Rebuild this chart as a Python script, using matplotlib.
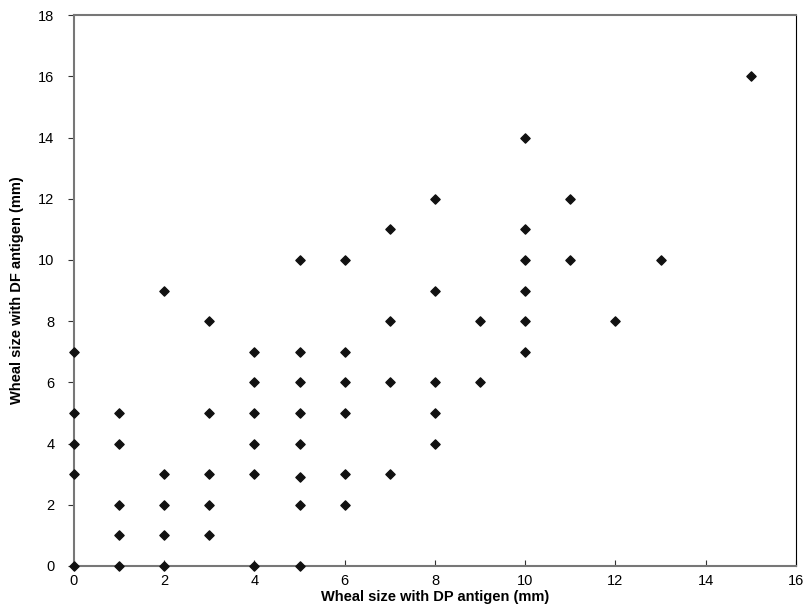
import matplotlib
matplotlib.use('Agg')
import matplotlib.pyplot as plt

plt.rcParams['font.family'] = ['Liberation Sans', 'DejaVu Sans']

# wheal sizes (mm)
dp_size = [0, 0, 0, 0, 0,
           1, 1, 1, 1, 1,
           2, 2, 2, 2, 2,
           3, 3, 3, 3, 3,
           4, 4, 4, 4, 4, 4,
           5, 5, 5, 5, 5, 5, 5, 5,
           6, 6, 6, 6, 6, 6,
           7, 7, 7, 7,
           8, 8, 8, 8, 8,
           9, 9,
           10, 10, 10, 10, 10, 10,
           11, 11,
           12,
           13,
           15]
df_size = [0, 3, 4, 5, 7,
           0, 1, 2, 4, 5,
           0, 1, 2, 3, 9,
           1, 2, 3, 5, 8,
           0, 3, 4, 5, 6, 7,
           0, 2, 2.9, 4, 5, 6, 7, 10,
           2, 3, 5, 6, 7, 10,
           3, 6, 8, 11,
           4, 5, 6, 9, 12,
           6, 8,
           7, 8, 9, 10, 11, 14,
           10, 12,
           8,
           10,
           16]

fig = plt.figure(figsize=(8.11, 6.05), dpi=100)
ax = fig.add_axes([0.0912, 0.0645, 0.8903, 0.9105])

ax.scatter(dp_size, df_size, marker='D', s=22, color='#111111', zorder=3, clip_on=False)

ax.set_xlim(0, 16)
ax.set_ylim(0, 18)
ax.set_xticks(range(0, 17, 2))
ax.set_yticks(range(0, 19, 2))
ax.tick_params(axis='x', direction='in', length=4, labelsize=10.5, pad=6, color='#333333')
ax.tick_params(axis='y', direction='out', length=4, labelsize=10.5, pad=10, color='#333333')

for side in ['left', 'bottom', 'top']:
    ax.spines[side].set_color('#777777')
    ax.spines[side].set_linewidth(1.5)
ax.spines['right'].set_color('black')
ax.spines['right'].set_linewidth(0.8)

ax.set_xlabel('Wheal size with DP antigen (mm)', fontsize=10.5, fontweight='bold', labelpad=1)
ax.set_ylabel('Wheal size with DF antigen (mm)', fontsize=10.5, fontweight='bold', labelpad=10)

fig.savefig('out.png', dpi=100)
